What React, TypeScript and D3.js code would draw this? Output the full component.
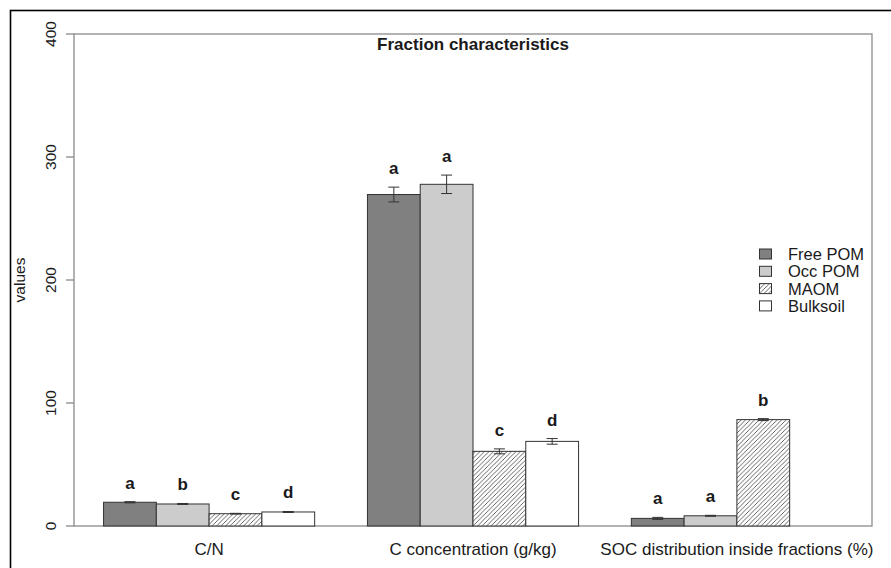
import React from "react";
import * as d3 from "d3";

const groups = ["C/N", "C concentration (g/kg)", "SOC distribution inside fractions (%)"];
const series = ["Free POM", "Occ POM", "MAOM", "Bulksoil"];
const values = [
  [19.3, 17.9, 10.0, 11.4],
  [269.5, 277.8, 60.7, 68.8],
  [6.2, 8.3, 86.5, null],
];
const errors = [
  [0.5, 0.4, 0.3, 0.4],
  [6.0, 7.5, 2.0, 2.3],
  [0.8, 0.4, 0.8, null],
];
const letters = [
  ["a", "b", "c", "d"],
  ["a", "a", "c", "d"],
  ["a", "a", "b", null],
];
const yTicks = [0, 100, 200, 300, 400];
const title = "Fraction characteristics";
const yLabel = "values";

const fills = ["#808080", "#cccccc", "url(#hatch)", "#ffffff"];

export default function App() {
  const W = 891, H = 568;
  const left = 74, right = 872, top = 34, bottom = 526;
  // R barplot with beside=TRUE, space=c(0,1): bar units
  const nG = groups.length, nS = series.length;
  const xMin = 1, xMax = nG * (nS + 1);
  const ext = (xMax - xMin) * 0.04;
  const x = d3.scaleLinear().domain([xMin - ext, xMax + ext]).range([left, right]);
  const y = d3.scaleLinear().domain([0, 400]).range([bottom, top]);
  const font = "'Liberation Sans', Arial, sans-serif";
  const textCol = "#1a1a1a";
  const axisCol = "#808080";
  const barStroke = "#333333";

  const bars: any[] = [];
  values.forEach((gv, gi) => {
    gv.forEach((v, si) => {
      if (v == null) return;
      const x0 = gi * (nS + 1) + 1 + si;
      bars.push({ gi, si, v, e: errors[gi][si], l: letters[gi][si], x0, x1: x0 + 1 });
    });
  });

  return (
    <svg width={W} height={H} style={{ position: "absolute", left: 0, top: 0, background: "#fff" }}>
      <defs>
        <pattern id="hatch" patternUnits="userSpaceOnUse" width={4.5} height={4.5}>
          <rect width={4.5} height={4.5} fill="#fff" />
          <path d="M-1,1 l2,-2 M0,4.5 l4.5,-4.5 M3.5,5.5 l2,-2" stroke="#555" strokeWidth={0.9} />
        </pattern>
      </defs>
      <rect x={10.5} y={10.5} width={1000} height={1000} fill="none" stroke="#000" strokeWidth={1.6} />
      {/* plot box */}
      <rect x={left} y={top} width={right - left} height={bottom - top} fill="none" stroke={axisCol} strokeWidth={1.2} />
      {/* y ticks */}
      {yTicks.map((t) => (
        <g key={t}>
          <line x1={left - 8} x2={left} y1={y(t)} y2={y(t)} stroke={axisCol} strokeWidth={1.2} />
          <text
            transform={`translate(${55.5},${y(t)}) rotate(-90)`}
            textAnchor="middle"
            fontFamily={font}
            fontSize={15.5}
            fill={textCol}
          >
            {t}
          </text>
        </g>
      ))}
      <text
        transform={`translate(${25},${(top + bottom) / 2}) rotate(-90)`}
        textAnchor="middle"
        fontFamily={font}
        fontSize={15.5}
        fill={textCol}
      >
        {yLabel}
      </text>
      {/* bars */}
      {bars.map((b, i) => (
        <rect
          key={"b" + i}
          x={x(b.x0)}
          y={y(b.v)}
          width={x(b.x1) - x(b.x0)}
          height={y(0) - y(b.v)}
          fill={fills[b.si]}
          stroke={barStroke}
          strokeWidth={1}
        />
      ))}
      {/* error bars */}
      {bars.map((b, i) => {
        const cx = x(b.x0 + 0.5);
        const y1 = y(b.v + b.e), y2 = y(b.v - b.e);
        return (
          <g key={"e" + i} stroke="#333" strokeWidth={1}>
            <line x1={cx} x2={cx} y1={y1} y2={y2} />
            <line x1={cx - 5.5} x2={cx + 5.5} y1={y1} y2={y1} />
            <line x1={cx - 5.5} x2={cx + 5.5} y1={y2} y2={y2} />
          </g>
        );
      })}
      {/* letters */}
      {bars.map((b, i) =>
        b.l ? (
          <text
            key={"l" + i}
            x={x(b.x0 + 0.5)}
            y={y(b.v + b.e) - 13}
            textAnchor="middle"
            fontFamily={font}
            fontWeight="bold"
            fontSize={17}
            fill={textCol}
          >
            {b.l}
          </text>
        ) : null
      )}
      {/* x labels */}
      {groups.map((g, gi) => (
        <text
          key={g}
          x={x(gi * (nS + 1) + 1 + nS / 2)}
          y={554.5}
          textAnchor="middle"
          fontFamily={font}
          fontSize={17}
          fill={textCol}
        >
          {g}
        </text>
      ))}
      {/* title */}
      <text x={473} y={49.5} textAnchor="middle" fontFamily={font} fontWeight="bold" fontSize={17} fill={textCol}>
        {title}
      </text>
      {/* legend */}
      {series.map((s, si) => {
        const cy = 254 + si * 17.3;
        return (
          <g key={s}>
            <rect x={759.5} y={cy - 5} width={12} height={10} fill={fills[si]} stroke={barStroke} strokeWidth={1} />
            <text x={788} y={cy + 6} fontFamily={font} fontSize={16.5} fill={textCol}>
              {s}
            </text>
          </g>
        );
      })}
    </svg>
  );
}
